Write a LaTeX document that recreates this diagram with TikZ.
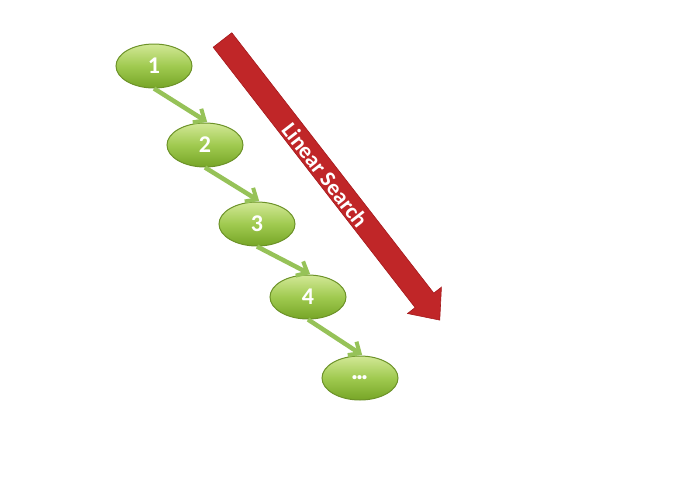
\documentclass[tikz,border=0pt]{standalone}
\usepackage{fontspec}
\setmainfont{Carlito}
\usetikzlibrary{shapes.geometric,arrows.meta}
\definecolor{nodetop}{RGB}{210,232,150}
\definecolor{nodemid}{RGB}{160,202,80}
\definecolor{nodebot}{RGB}{118,165,38}
\definecolor{nodeedge}{RGB}{108,146,40}
\definecolor{linkgreen}{RGB}{150,194,88}
\definecolor{searchred}{RGB}{192,38,40}
\definecolor{searchdark}{RGB}{165,25,28}
\tikzset{
  listnode/.style={ellipse, minimum width=76pt, minimum height=44pt, inner sep=0pt,
    top color=nodetop, bottom color=nodebot, middle color=nodemid,
    draw=nodeedge, line width=1pt, text=white,
    font=\fontsize{24}{26}\selectfont\bfseries},
  link/.style={draw=linkgreen, line width=4.5pt,
    -{Straight Barb[length=9pt,width=16pt,line width=4pt]}, shorten >=1pt},
  searchlabel/.style={text=white, font=\fontsize{22.5}{24}\selectfont\bfseries, rotate=-52.2}
}
\begin{document}
\begin{tikzpicture}[x=1pt,y=-1pt]
\useasboundingbox (0,0) rectangle (681,483);
% red search arrow
\begin{scope}[shift={(222.5,40)}, rotate=-52.2]
  \fill[searchred, draw=searchdark, line width=0.6pt]
    (0,-11.8) -- (329.5,-11.8) -- (329.5,-21.5) -- (354.5,0)
    -- (329.5,21.5) -- (329.5,11.8) -- (0,11.8) -- cycle;
\end{scope}
\node[searchlabel] (lbl) at (325,175) {Linear Search};
% list nodes
\node[listnode] (n1) at (154,66) {1};
\node[listnode] (n2) at (205,145) {2};
\node[listnode] (n3) at (257,224) {3};
\node[listnode] (n4) at (308,297) {4};
\node[listnode, font=\fontsize{28}{28}\selectfont\bfseries] (n5) at (360,378) {\kern-1pt.\kern-2.5pt.\kern-2.5pt.};
\draw[link] (n1.south) -- ([xshift=3pt]n2.north);
\draw[link] (n2.south) -- ([xshift=3pt]n3.north);
\draw[link] (n3.south) -- ([xshift=3pt]n4.north);
\draw[link] (n4.south) -- ([xshift=3pt]n5.north);
\end{tikzpicture}
\end{document}
